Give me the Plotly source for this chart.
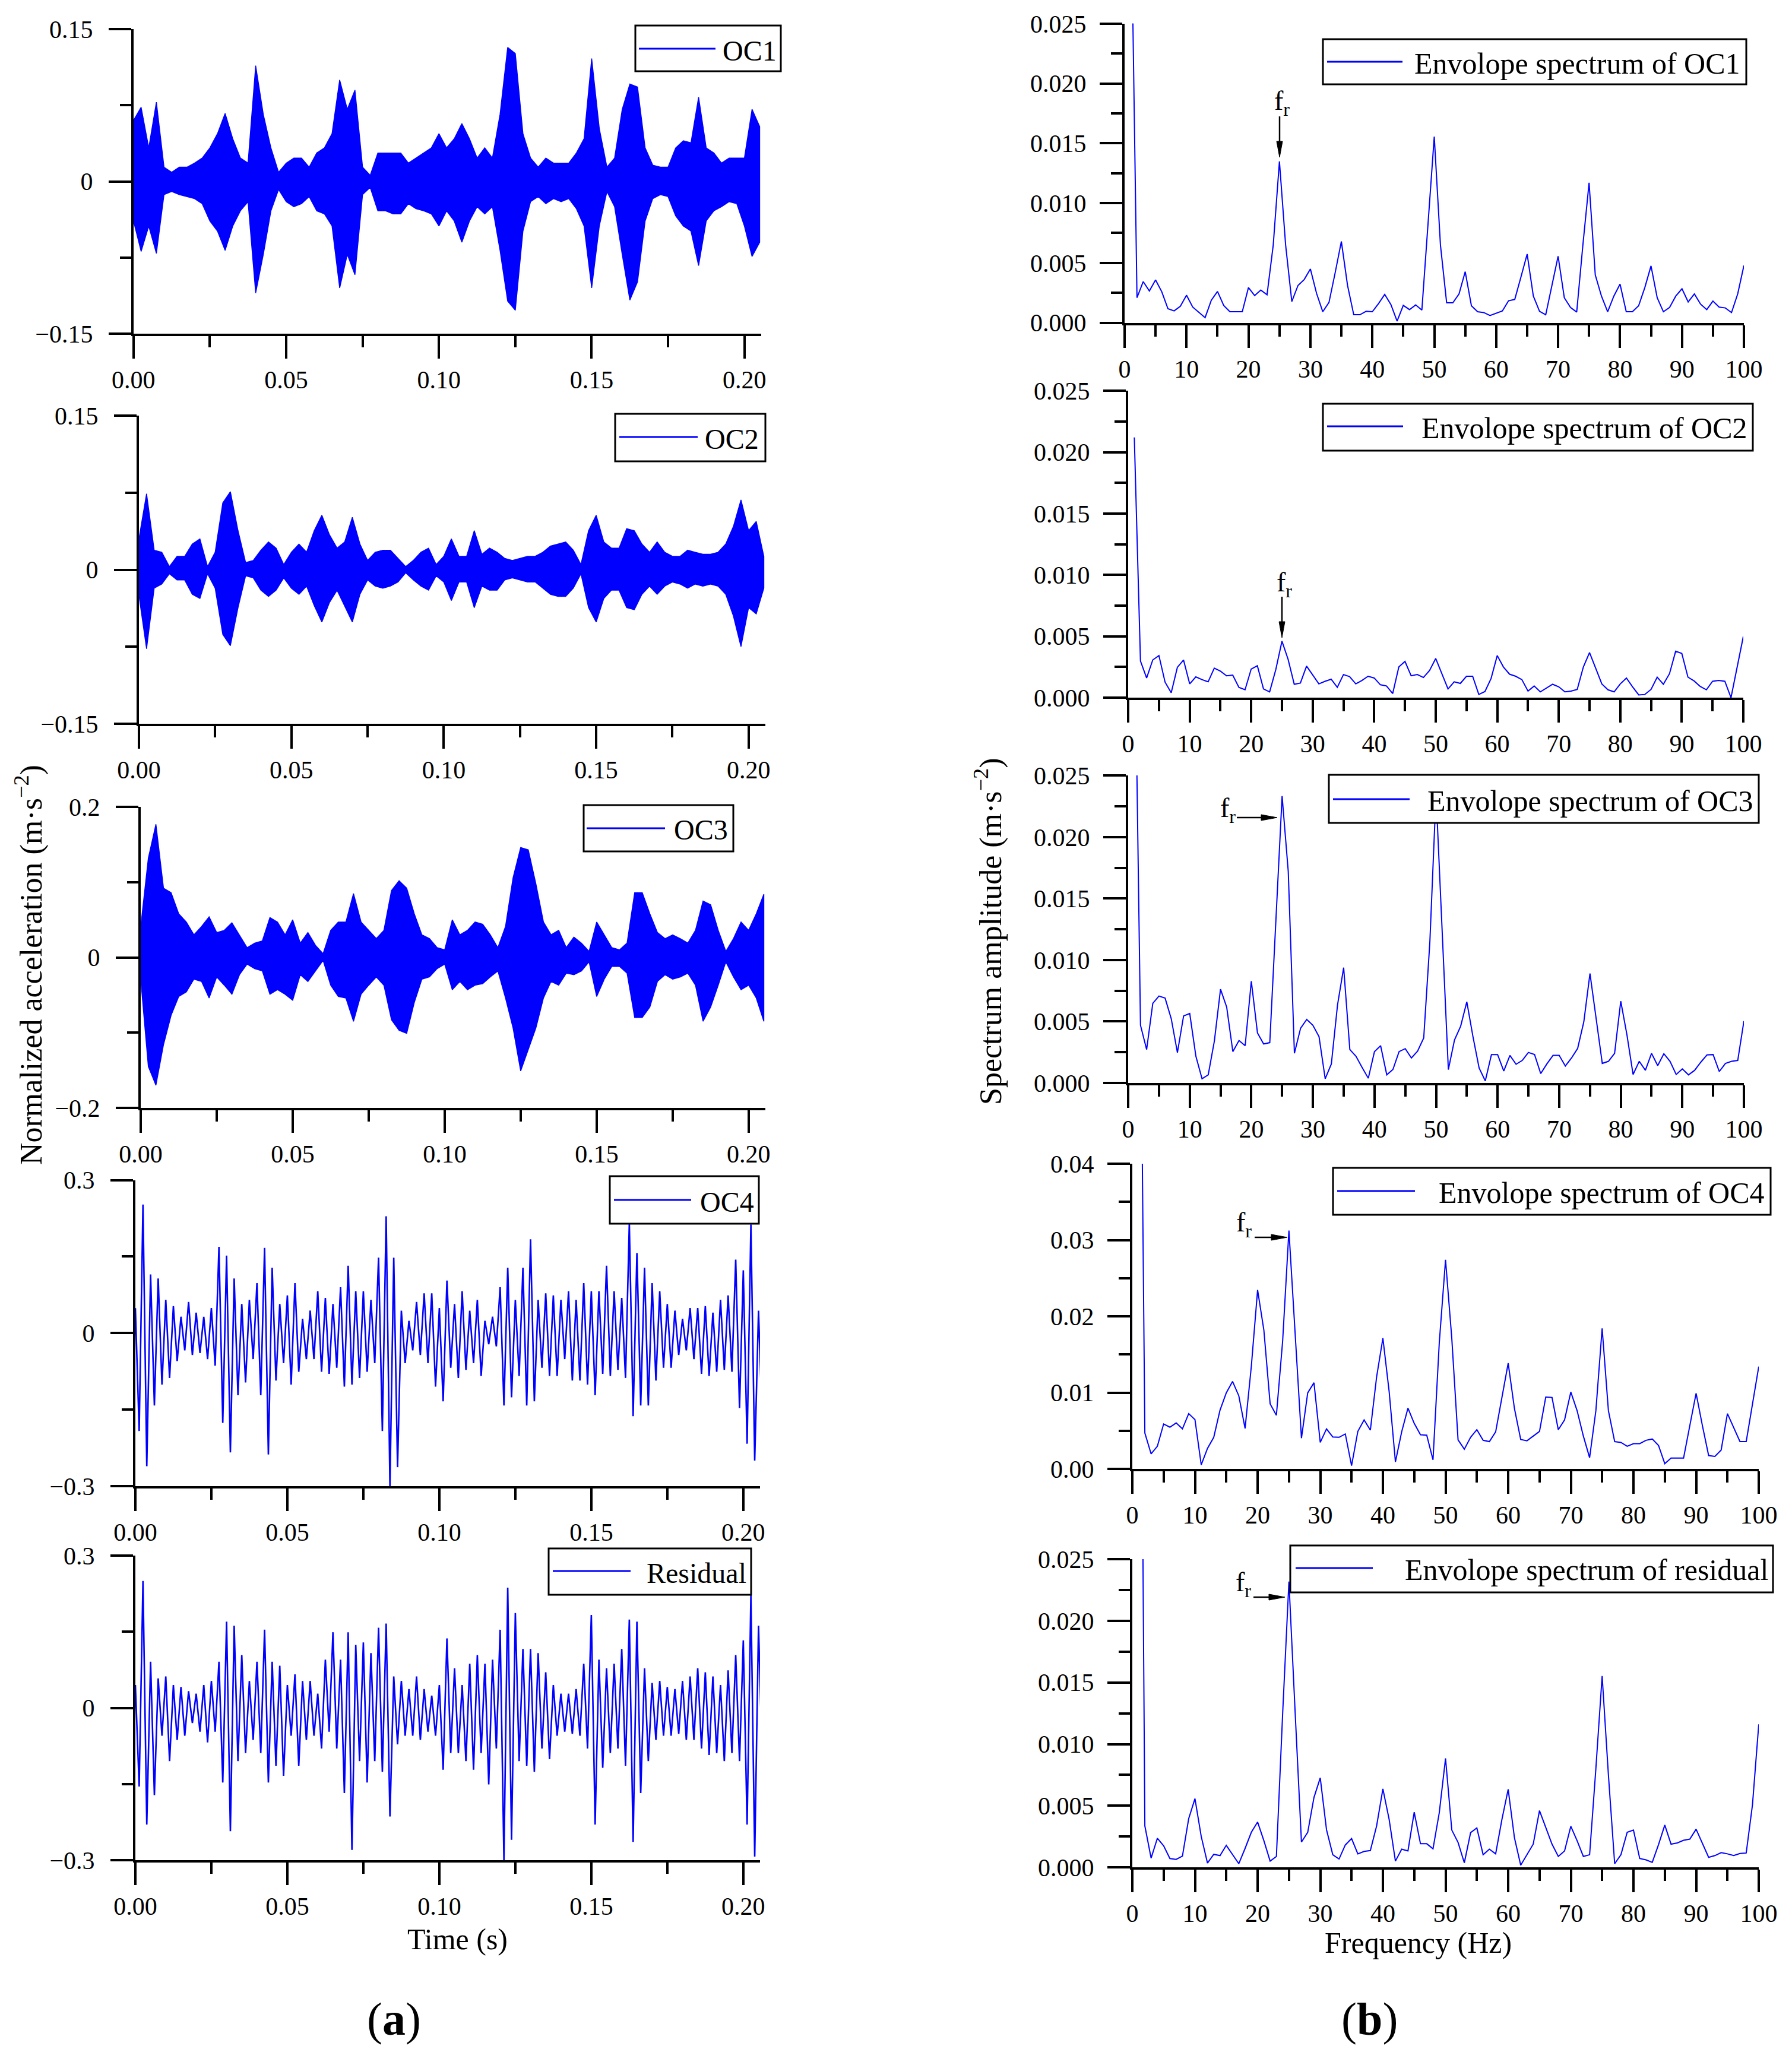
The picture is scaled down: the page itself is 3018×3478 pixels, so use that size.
import plotly.graph_objects as go

W, H = 3018, 3478
FONT = "Liberation Serif"
BLUE = "#0000FF"

# ---------------- data ----------------
t_step = 0.0025                      # envelope sampling step of the time signals (s)
time_s = [round(i * t_step, 4) for i in range(83)]
freq_hz = list(range(1, 101))

oc1_upper = [0.06, 0.073, 0.033, 0.078, 0.014, 0.009, 0.014, 0.014, 0.018, 0.023,
             0.033, 0.047, 0.067, 0.042, 0.023, 0.018, 0.114, 0.066, 0.033, 0.009,
             0.018, 0.023, 0.023, 0.014, 0.028, 0.033, 0.047, 0.1, 0.071, 0.09,
             0.014, 0.006, 0.028, 0.028, 0.028, 0.028, 0.018, 0.023, 0.028, 0.033,
             0.047, 0.033, 0.042, 0.057, 0.042, 0.023, 0.033, 0.023, 0.066, 0.132,
             0.126, 0.047, 0.023, 0.014, 0.023, 0.018, 0.018, 0.018, 0.028, 0.042,
             0.121, 0.052, 0.014, 0.023, 0.071, 0.096, 0.093, 0.033, 0.016, 0.014,
             0.014, 0.033, 0.04, 0.038, 0.083, 0.033, 0.028, 0.018, 0.023, 0.023,
             0.023, 0.071, 0.054]
oc1_lower = [-0.039, -0.069, -0.044, -0.071, -0.013, -0.01, -0.013, -0.015, -0.017, -0.022,
             -0.039, -0.049, -0.068, -0.044, -0.029, -0.02, -0.11, -0.072, -0.029, -0.008,
             -0.02, -0.025, -0.022, -0.015, -0.029, -0.032, -0.044, -0.105, -0.072, -0.092,
             -0.013, -0.006, -0.029, -0.029, -0.032, -0.032, -0.022, -0.027, -0.029, -0.032,
             -0.044, -0.029, -0.039, -0.06, -0.039, -0.025, -0.032, -0.025, -0.068, -0.118,
             -0.127, -0.049, -0.02, -0.015, -0.022, -0.017, -0.02, -0.017, -0.027, -0.044,
             -0.105, -0.044, -0.01, -0.025, -0.072, -0.117, -0.099, -0.039, -0.017, -0.013,
             -0.015, -0.034, -0.044, -0.049, -0.083, -0.039, -0.029, -0.025, -0.02, -0.022,
             -0.044, -0.074, -0.06]

oc2_upper = [0.03, 0.074, 0.019, 0.017, 0.003, 0.013, 0.013, 0.025, 0.03, 0.003,
             0.017, 0.065, 0.076, 0.038, 0.007, 0.009, 0.019, 0.027, 0.021, 0.005,
             0.017, 0.025, 0.017, 0.038, 0.053, 0.034, 0.021, 0.027, 0.051, 0.025,
             0.009, 0.017, 0.019, 0.019, 0.011, 0.003, 0.009, 0.017, 0.021, 0.005,
             0.013, 0.03, 0.013, 0.013, 0.038, 0.015, 0.021, 0.017, 0.011, 0.009,
             0.011, 0.013, 0.013, 0.017, 0.023, 0.025, 0.027, 0.019, 0.005, 0.038,
             0.053, 0.027, 0.021, 0.021, 0.04, 0.038, 0.025, 0.017, 0.027, 0.017,
             0.013, 0.013, 0.019, 0.017, 0.015, 0.015, 0.017, 0.025, 0.042, 0.068,
             0.038, 0.047, 0.013]
oc2_lower = [-0.025, -0.077, -0.018, -0.014, -0.004, -0.01, -0.01, -0.024, -0.028, -0.004,
             -0.018, -0.063, -0.074, -0.037, -0.006, -0.008, -0.02, -0.026, -0.02, -0.008,
             -0.018, -0.024, -0.016, -0.035, -0.051, -0.032, -0.02, -0.035, -0.051, -0.024,
             -0.01, -0.016, -0.018, -0.016, -0.012, -0.003, -0.01, -0.016, -0.02, -0.006,
             -0.012, -0.03, -0.012, -0.012, -0.037, -0.016, -0.02, -0.02, -0.01, -0.008,
             -0.01, -0.012, -0.012, -0.018, -0.024, -0.026, -0.026, -0.018, -0.004, -0.037,
             -0.051, -0.028, -0.02, -0.02, -0.037, -0.039, -0.024, -0.016, -0.024, -0.016,
             -0.012, -0.014, -0.018, -0.014, -0.016, -0.014, -0.016, -0.024, -0.045, -0.075,
             -0.037, -0.043, -0.018]

oc3_upper = [0.041, 0.132, 0.177, 0.092, 0.086, 0.058, 0.047, 0.03, 0.041, 0.054,
             0.033, 0.036, 0.046, 0.03, 0.013, 0.019, 0.022, 0.053, 0.047, 0.03,
             0.05, 0.019, 0.033, 0.016, 0.005, 0.036, 0.047, 0.047, 0.085, 0.047,
             0.036, 0.025, 0.036, 0.089, 0.102, 0.092, 0.058, 0.03, 0.025, 0.013,
             0.01, 0.05, 0.03, 0.036, 0.047, 0.044, 0.03, 0.013, 0.041, 0.106,
             0.146, 0.143, 0.098, 0.047, 0.03, 0.036, 0.013, 0.027, 0.019, 0.008,
             0.047, 0.03, 0.013, 0.01, 0.019, 0.086, 0.086, 0.058, 0.033, 0.025,
             0.03, 0.025, 0.019, 0.036, 0.075, 0.07, 0.036, 0.008, 0.025, 0.047,
             0.036, 0.058, 0.084]
oc3_lower = [-0.029, -0.145, -0.17, -0.116, -0.077, -0.052, -0.046, -0.029, -0.032, -0.054,
             -0.026, -0.037, -0.049, -0.023, -0.009, -0.015, -0.018, -0.049, -0.043, -0.049,
             -0.057, -0.023, -0.032, -0.018, -0.004, -0.037, -0.052, -0.054, -0.085, -0.049,
             -0.037, -0.026, -0.037, -0.083, -0.097, -0.101, -0.06, -0.029, -0.026, -0.015,
             -0.009, -0.043, -0.032, -0.043, -0.037, -0.035, -0.026, -0.018, -0.054, -0.094,
             -0.151, -0.122, -0.094, -0.054, -0.032, -0.037, -0.021, -0.023, -0.018, -0.006,
             -0.052, -0.029, -0.012, -0.012, -0.021, -0.08, -0.08, -0.066, -0.032, -0.023,
             -0.029, -0.026, -0.021, -0.037, -0.085, -0.066, -0.037, -0.006, -0.026, -0.043,
             -0.037, -0.054, -0.085]

oc4_upper = [0.049, 0.252, 0.115, 0.107, 0.065, 0.053, 0.032, 0.061, 0.04, 0.032,
             0.049, 0.169, 0.152, 0.107, 0.057, 0.065, 0.098, 0.167, 0.128, 0.057,
             0.074, 0.098, 0.028, 0.044, 0.082, 0.069, 0.057, 0.09, 0.132, 0.082,
             0.082, 0.065, 0.148, 0.229, 0.148, 0.044, 0.024, 0.061, 0.078, 0.078,
             0.049, 0.103, 0.057, 0.082, 0.044, 0.065, 0.024, 0.032, 0.09, 0.128,
             0.065, 0.128, 0.184, 0.065, 0.078, 0.074, 0.065, 0.082, 0.065, 0.098,
             0.082, 0.082, 0.132, 0.082, 0.069, 0.215, 0.157, 0.128, 0.098, 0.082,
             0.057, 0.044, 0.028, 0.049, 0.049, 0.053, 0.04, 0.065, 0.074, 0.144,
             0.123, 0.213, 0.044]
oc4_lower = [-0.192, -0.261, -0.142, -0.101, -0.088, -0.055, -0.034, -0.043, -0.039, -0.051,
             -0.064, -0.176, -0.234, -0.122, -0.097, -0.051, -0.122, -0.238, -0.093, -0.059,
             -0.101, -0.076, -0.051, -0.051, -0.076, -0.08, -0.068, -0.105, -0.101, -0.088,
             -0.076, -0.059, -0.192, -0.3, -0.263, -0.059, -0.034, -0.043, -0.059, -0.105,
             -0.134, -0.068, -0.088, -0.072, -0.059, -0.084, -0.022, -0.026, -0.142, -0.126,
             -0.084, -0.142, -0.134, -0.068, -0.084, -0.084, -0.051, -0.093, -0.093, -0.101,
             -0.122, -0.08, -0.084, -0.072, -0.088, -0.163, -0.142, -0.142, -0.093, -0.068,
             -0.068, -0.043, -0.034, -0.051, -0.08, -0.084, -0.076, -0.072, -0.076, -0.147,
             -0.217, -0.25, -0.176]

res_upper = [0.045, 0.25, 0.091, 0.058, 0.062, 0.045, 0.041, 0.033, 0.028, 0.045,
             0.053, 0.091, 0.17, 0.162, 0.104, 0.053, 0.091, 0.154, 0.091, 0.083,
             0.045, 0.066, 0.053, 0.053, 0.028, 0.095, 0.149, 0.095, 0.149, 0.124,
             0.129, 0.108, 0.158, 0.166, 0.062, 0.053, 0.037, 0.062, 0.037, 0.024,
             0.045, 0.137, 0.078, 0.045, 0.087, 0.104, 0.087, 0.095, 0.154, 0.237,
             0.187, 0.116, 0.116, 0.108, 0.07, 0.045, 0.028, 0.028, 0.037, 0.087,
             0.183, 0.095, 0.078, 0.087, 0.116, 0.174, 0.17, 0.078, 0.049, 0.053,
             0.041, 0.037, 0.053, 0.062, 0.078, 0.07, 0.062, 0.045, 0.074, 0.104,
             0.133, 0.223, 0.162]
res_lower = [-0.155, -0.23, -0.172, -0.055, -0.105, -0.063, -0.055, -0.03, -0.047, -0.068,
             -0.047, -0.147, -0.243, -0.105, -0.089, -0.063, -0.089, -0.147, -0.114, -0.134,
             -0.055, -0.114, -0.063, -0.055, -0.08, -0.047, -0.08, -0.168, -0.28, -0.105,
             -0.147, -0.105, -0.126, -0.214, -0.072, -0.055, -0.055, -0.063, -0.047, -0.055,
             -0.122, -0.089, -0.089, -0.105, -0.122, -0.089, -0.151, -0.08, -0.3, -0.26,
             -0.105, -0.114, -0.126, -0.08, -0.101, -0.055, -0.047, -0.051, -0.055, -0.08,
             -0.23, -0.118, -0.089, -0.08, -0.114, -0.264, -0.168, -0.105, -0.063, -0.055,
             -0.055, -0.051, -0.063, -0.063, -0.08, -0.093, -0.089, -0.105, -0.089, -0.105,
             -0.23, -0.293, -0.105]

spec_oc1 = [0.037, 0.00209, 0.00344, 0.00266, 0.00358, 0.00259, 0.00117, 0.00099, 0.00138, 0.0023,
            0.00131, 0.00085, 0.00043, 0.00188, 0.00262, 0.00145, 0.00092, 0.00092, 0.00092, 0.00294,
            0.00227, 0.00273, 0.00234, 0.00649, 0.01349, 0.0065, 0.00177, 0.00312, 0.00361, 0.0045,
            0.00245, 0.00092, 0.0017, 0.00418, 0.0068, 0.00312, 0.00067, 0.00067, 0.00096, 0.00092,
            0.0016, 0.00237, 0.00152, 0.00014, 0.00145, 0.0011, 0.00149, 0.00106, 0.00826, 0.01556,
            0.0065, 0.00167, 0.00167, 0.00241, 0.00427, 0.00142, 0.00092, 0.00085, 0.0006, 0.00078,
            0.00099, 0.00184, 0.00195, 0.00383, 0.00574, 0.00223, 0.00096, 0.00067, 0.00312, 0.00556,
            0.00209, 0.00128, 0.00089, 0.0065, 0.0117, 0.004, 0.00223, 0.00092, 0.00223, 0.00323,
            0.00092, 0.00092, 0.00142, 0.00294, 0.00475, 0.00209, 0.00092, 0.00128, 0.00223, 0.00284,
            0.00174, 0.00241, 0.00156, 0.0011, 0.00181, 0.00131, 0.00124, 0.00085, 0.00241, 0.00478]
spec_oc2 = [0.0212, 0.00298, 0.0016, 0.00307, 0.00343, 0.00126, 0.0004, 0.00247, 0.00307, 0.00112,
            0.00169, 0.00147, 0.00129, 0.0024, 0.00216, 0.00178, 0.00184, 0.00084, 0.00064, 0.00233,
            0.0026, 0.00071, 0.00047, 0.00229, 0.0046, 0.00312, 0.00109, 0.00119, 0.00257, 0.00184,
            0.00112, 0.00133, 0.0015, 0.00084, 0.00188, 0.00171, 0.00112, 0.0014, 0.00174, 0.0016,
            0.00105, 0.00095, 0.00033, 0.0025, 0.00295, 0.00178, 0.00188, 0.00164, 0.00222, 0.00319,
            0.00195, 0.00071, 0.00129, 0.00116, 0.00174, 0.00174, 0.00026, 0.0005, 0.00157, 0.00343,
            0.0025, 0.00191, 0.00174, 0.00147, 0.00053, 0.00095, 0.00047, 0.00078, 0.00109, 0.00088,
            0.00047, 0.00053, 0.00067, 0.0025, 0.00367, 0.0024, 0.00112, 0.00064, 0.00047, 0.00112,
            0.0016, 0.00088, 0.00022, 0.00026, 0.00067, 0.00167, 0.00109, 0.00195, 0.00378, 0.0036,
            0.00167, 0.00136, 0.00091, 0.00064, 0.00133, 0.0014, 0.00133, 0.0, 0.00247, 0.00498]
spec_oc3 = [0.04, 0.0047, 0.00272, 0.00648, 0.00707, 0.0069, 0.00522, 0.00247, 0.00545, 0.00565,
            0.00217, 0.00034, 0.00066, 0.00341, 0.00762, 0.00617, 0.00255, 0.00345, 0.00303, 0.00828,
            0.00407, 0.00317, 0.00328, 0.01324, 0.02333, 0.0172, 0.00241, 0.00445, 0.00517, 0.00469,
            0.00376, 0.00034, 0.00155, 0.00634, 0.00938, 0.00272, 0.00217, 0.00126, 0.00038, 0.00255,
            0.00303, 0.00066, 0.0011, 0.00255, 0.00279, 0.00203, 0.00259, 0.00366, 0.0115, 0.0235,
            0.012, 0.00109, 0.0035, 0.00462, 0.0066, 0.00376, 0.00121, 0.00017, 0.00231, 0.00231,
            0.00097, 0.00224, 0.00152, 0.00183, 0.00248, 0.00231, 0.00076, 0.00155, 0.00224, 0.00224,
            0.00138, 0.00203, 0.00281, 0.00497, 0.0089, 0.00514, 0.00159, 0.00176, 0.00241, 0.00665,
            0.00393, 0.00069, 0.00176, 0.00103, 0.00241, 0.00141, 0.00238, 0.00176, 0.00069, 0.00114,
            0.00066, 0.00103, 0.00169, 0.00228, 0.00231, 0.00093, 0.00159, 0.00176, 0.00183, 0.00503]
spec_oc4 = [0.093, 0.0047, 0.00197, 0.00297, 0.00589, 0.00547, 0.00603, 0.00525, 0.00725, 0.00647,
            0.00053, 0.00269, 0.00414, 0.0077, 0.00997, 0.01147, 0.00958, 0.00531, 0.01347, 0.02347,
            0.0182, 0.00853, 0.00703, 0.0168, 0.03125, 0.0176, 0.00403, 0.00997, 0.0113, 0.00347,
            0.00525, 0.00419, 0.00414, 0.00458, 0.00042, 0.00492, 0.00642, 0.00508, 0.01208, 0.01714,
            0.01014, 0.00092, 0.00486, 0.00797, 0.00597, 0.00447, 0.00442, 0.00119, 0.01653, 0.02742,
            0.0171, 0.00381, 0.00258, 0.00414, 0.00514, 0.00375, 0.00358, 0.00486, 0.00931, 0.01386,
            0.00792, 0.00386, 0.00369, 0.00431, 0.00492, 0.00942, 0.00936, 0.00514, 0.00642, 0.01008,
            0.00764, 0.00431, 0.00147, 0.00764, 0.01842, 0.00764, 0.00358, 0.00347, 0.00297, 0.00331,
            0.00331, 0.00375, 0.00392, 0.00308, 0.00069, 0.00142, 0.00142, 0.00142, 0.00569, 0.00992,
            0.00569, 0.00175, 0.00164, 0.00247, 0.00725, 0.00542, 0.00358, 0.00358, 0.00847, 0.01342]
spec_res = [0.0755, 0.00336, 0.00074, 0.00236, 0.00174, 0.00071, 0.00064, 0.00091, 0.00395, 0.00557,
            0.0025, 0.00034, 0.00105, 0.00095, 0.00178, 0.00105, 0.00029, 0.00153, 0.00284, 0.00367,
            0.00216, 0.0005, 0.00088, 0.0125, 0.02319, 0.0125, 0.00205, 0.00284, 0.00567, 0.00726,
            0.00305, 0.00102, 0.00067, 0.00181, 0.00233, 0.00109, 0.00129, 0.00136, 0.00336, 0.00636,
            0.00388, 0.0005, 0.00147, 0.00133, 0.00447, 0.00191, 0.00191, 0.0015, 0.00443, 0.00884,
            0.00302, 0.00202, 0.00036, 0.00281, 0.00319, 0.00102, 0.00147, 0.00109, 0.00388, 0.00633,
            0.0024, 0.00017, 0.00105, 0.00188, 0.0046, 0.00319, 0.00188, 0.00088, 0.00133, 0.00333,
            0.00216, 0.00088, 0.00102, 0.00802, 0.01553, 0.0075, 0.00029, 0.00102, 0.00284, 0.00302,
            0.00071, 0.0006, 0.0004, 0.00184, 0.00343, 0.00188, 0.00198, 0.00219, 0.00229, 0.00309,
            0.00191, 0.00081, 0.00095, 0.00119, 0.00109, 0.00095, 0.00112, 0.00116, 0.00508, 0.0116]

time_names = ["OC1", "OC2", "OC3", "OC4", "Residual"]
spec_names = ["Envolope spectrum of OC1", "Envolope spectrum of OC2", "Envolope spectrum of OC3",
              "Envolope spectrum of OC4", "Envolope spectrum of residual"]
time_upper = [oc1_upper, oc2_upper, oc3_upper, oc4_upper, res_upper]
time_lower = [oc1_lower, oc2_lower, oc3_lower, oc4_lower, res_lower]
spectra = [spec_oc1, spec_oc2, spec_oc3, spec_oc4, spec_res]
time_ylim = [0.15, 0.15, 0.2, 0.3, 0.3]
time_yticks = [["−0.15", "0", "0.15"], ["−0.15", "0", "0.15"], ["−0.2", "0", "0.2"],
               ["−0.3", "0", "0.3"], ["−0.3", "0", "0.3"]]
spec_ymax = [0.025, 0.025, 0.025, 0.04, 0.025]
dense_signal = [True, True, True, False, False]

# ---------------- layout geometry (pixels) ----------------
left_x = [(224.8, 1282), (234, 1289), (237, 1289), (228, 1280), (228, 1280)]
left_y = [(49, 562), (700, 1219), (1359, 1866), (1987.5, 2503), (2620, 3133)]
right_x = [(1894, 2937), (1900, 2936), (1900, 2937), (1907, 2962), (1907, 2962)]
right_y = [(39.6, 543.6), (658, 1175), (1306, 1824), (1960, 2474), (2626, 3145)]


def dx(a, b):
    return [a / W, b / W]


def dy(top, bottom):
    return [1 - bottom / H, 1 - top / H]


def px(x, y):
    return x / W, 1 - y / H


fig = go.Figure()
layout = dict(template="none", width=W, height=H, margin=dict(l=0, r=0, t=0, b=0, pad=0),
              paper_bgcolor="white", plot_bgcolor="white", showlegend=False,
              font=dict(family=FONT, color="black", size=42))

tickfont = dict(family=FONT, size=42, color="black")
axis_common = dict(showline=True, linewidth=4, linecolor="black", showgrid=False,
                   zeroline=False, ticks="outside", ticklen=38, tickwidth=3.5,
                   tickcolor="black", tickfont=tickfont, mirror=False, automargin=False)

# time-domain panels
for i in range(5):
    k = i + 1
    xa = "xaxis" if k == 1 else f"xaxis{k}"
    ya = "yaxis" if k == 1 else f"yaxis{k}"
    xr = "x" if k == 1 else f"x{k}"
    yr = "y" if k == 1 else f"y{k}"
    lim = time_ylim[i]
    layout[xa] = dict(axis_common, domain=dx(*left_x[i]), anchor=yr, range=[0, 0.2055],
                      tickvals=[0, 0.05, 0.1, 0.15, 0.2],
                      ticktext=["0.00", "0.05", "0.10", "0.15", "0.20"],
                      ticklabelstandoff=0,
                      minor=dict(tickvals=[0.025, 0.075, 0.125, 0.175], ticks="outside",
                                 ticklen=19, tickwidth=3.5, tickcolor="black", showgrid=False))
    layout[ya] = dict(axis_common, domain=dy(*left_y[i]), anchor=xr,
                      range=[-lim * 1.0005, lim * 1.0005],
                      tickvals=[-lim, 0, lim], ticktext=time_yticks[i],
                      ticklabelstandoff=18,
                      minor=dict(tickvals=[-lim / 2, lim / 2], ticks="outside",
                                 ticklen=19, tickwidth=3.5, tickcolor="black", showgrid=False))
    up, lo = time_upper[i], time_lower[i]
    if dense_signal[i]:
        # dense vibration: filled band between the upper and lower envelope peaks
        fig.add_trace(go.Scatter(x=time_s + time_s[::-1], y=up + lo[::-1], mode="lines",
                                 fill="toself", fillcolor=BLUE,
                                 line=dict(color=BLUE, width=1.5),
                                 xaxis=xr, yaxis=yr, hoverinfo="skip"))
    else:
        # sparser vibration: oscillate between the envelope peaks
        zx, zy = [], []
        for t, u, l in zip(time_s, up, lo):
            zx += [t, t + t_step / 2]
            zy += [u, l]
        fig.add_trace(go.Scatter(x=zx, y=zy, mode="lines",
                                 line=dict(color=BLUE, width=2.6),
                                 xaxis=xr, yaxis=yr, hoverinfo="skip"))

# spectrum panels
for i in range(5):
    k = i + 6
    xa, ya, xr, yr = f"xaxis{k}", f"yaxis{k}", f"x{k}", f"y{k}"
    ymax = spec_ymax[i]
    layout[xa] = dict(axis_common, domain=dx(*right_x[i]), anchor=yr, range=[0, 100],
                      tick0=0, dtick=10, ticklabelstandoff=0,
                      minor=dict(dtick=5, ticks="outside", ticklen=19, tickwidth=3.5,
                                 tickcolor="black", showgrid=False))
    if ymax == 0.04:
        yfmt, ydt, ymin = ".2f", 0.01, 0.005
    else:
        yfmt, ydt, ymin = ".3f", 0.005, 0.0025
    layout[ya] = dict(axis_common, domain=dy(*right_y[i]), anchor=xr,
                      range=[0, ymax * 1.0005], tick0=0, dtick=ydt, tickformat=yfmt,
                      ticklabelstandoff=14,
                      minor=dict(dtick=ymin, ticks="outside", ticklen=19, tickwidth=3.5,
                                 tickcolor="black", showgrid=False))
    fig.add_trace(go.Scatter(x=freq_hz, y=spectra[i], mode="lines",
                             line=dict(color=BLUE, width=2),
                             xaxis=xr, yaxis=yr, hoverinfo="skip"))

# ---------------- legends (boxes drawn as shapes) ----------------
legend_boxes = [(1070, 43, 1315, 120), (1036, 697, 1289, 777), (983, 1356, 1235, 1434),
                (1027, 1981, 1278, 2061), (924, 2608, 1265, 2686),
                (2228, 66, 2941, 142), (2228, 680, 2952, 759), (2238, 1305, 2962, 1386),
                (2245, 1967, 2982, 2046), (2173, 2603, 2986, 2682)]
legend_lines = [(1076, 1205, 82), (1043, 1175, 736), (988, 1120, 1395), (1034, 1164, 2021),
                (931, 1062, 2646), (2235, 2362, 104), (2235, 2363, 718), (2245, 2374, 1346),
                (2252, 2383, 2006), (2182, 2312, 2641)]
legend_text_end = [1310, 1280, 1228, 1272, 1259, 2933, 2945, 2955, 2974, 2980]
legend_font = [48, 48, 48, 48, 48, 50, 50, 50, 50, 50]
legend_labels = time_names + spec_names

shapes = []
annotations = []
for (x0, y0, x1, y1), (lx0, lx1, ly), te, fs, lab in zip(legend_boxes, legend_lines,
                                                         legend_text_end, legend_font,
                                                         legend_labels):
    a0, b1 = px(x0, y0)
    a1, b0 = px(x1, y1)
    shapes.append(dict(type="rect", xref="paper", yref="paper", x0=a0, x1=a1, y0=b0, y1=b1,
                       line=dict(color="black", width=3), fillcolor="white", layer="above"))
    p0 = px(lx0, ly)
    p1 = px(lx1, ly)
    shapes.append(dict(type="line", xref="paper", yref="paper", x0=p0[0], x1=p1[0],
                       y0=p0[1], y1=p1[1], line=dict(color=BLUE, width=3), layer="above"))
    tx, ty = px(te, ly + 3)
    annotations.append(dict(text=lab, xref="paper", yref="paper", x=tx, y=ty,
                            xanchor="right", yanchor="middle", showarrow=False,
                            font=dict(family=FONT, size=fs, color="black")))

# ---------------- f_r markers ----------------
fr_text = [(2159, 173), (2163, 984), (2068, 1364), (2095, 2062), (2094, 2668)]
fr_arrow = [((2155, 196), (2155, 265)), ((2159, 1005), (2159, 1074)),
            ((2083, 1377), (2151, 1377)), ((2113, 2084), (2168, 2084)),
            ((2111, 2690), (2164, 2690))]
for (tx, ty), ((sx, sy), (hx, hy)) in zip(fr_text, fr_arrow):
    x, y = px(tx, ty)
    annotations.append(dict(text="f<sub>r</sub>", xref="paper", yref="paper", x=x, y=y,
                            xanchor="center", yanchor="middle", showarrow=False,
                            font=dict(family=FONT, size=46, color="black")))
    L, hw = 27.0, 5.0
    dxp, dyp = hx - sx, hy - sy
    n = (dxp ** 2 + dyp ** 2) ** 0.5
    ux, uy = dxp / n, dyp / n
    bx, by = hx - ux * L, hy - uy * L
    s0 = px(sx, sy)
    s1 = px(bx, by)
    shapes.append(dict(type="line", xref="paper", yref="paper", x0=s0[0], y0=s0[1],
                       x1=s1[0], y1=s1[1], line=dict(color="black", width=2.5), layer="above"))
    c1 = px(bx - uy * hw, by + ux * hw)
    c2 = px(bx + uy * hw, by - ux * hw)
    tip = px(hx, hy)
    path = f"M {tip[0]},{tip[1]} L {c1[0]},{c1[1]} L {c2[0]},{c2[1]} Z"
    shapes.append(dict(type="path", xref="paper", yref="paper", path=path,
                       fillcolor="black", line=dict(color="black", width=1), layer="above"))


# ---------------- axis titles and panel labels ----------------
def add_text(text, x, y, size, angle=0):
    ax_, ay_ = px(x, y)
    annotations.append(dict(text=text, xref="paper", yref="paper", x=ax_, y=ay_,
                            xanchor="center", yanchor="middle", showarrow=False,
                            textangle=angle, font=dict(family=FONT, size=size, color="black")))


add_text("Normalized acceleration (m·s<sup>−2</sup>)", 49, 1625, 52, -90)
add_text("Spectrum amplitude (m·s<sup>−2</sup>)", 1665, 1569, 52, -90)
add_text("Time (s)", 770, 3266, 50)
add_text("Frequency (Hz)", 2388, 3272, 50)
add_text("(<b>a</b>)", 663, 3400, 78)
add_text("(<b>b</b>)", 2306, 3400, 78)

layout["shapes"] = shapes
layout["annotations"] = annotations
fig.update_layout(**layout)
fig.write_html("out.html", config={"displayModeBar": False},
               post_script="document.body.style.margin='0px';")
